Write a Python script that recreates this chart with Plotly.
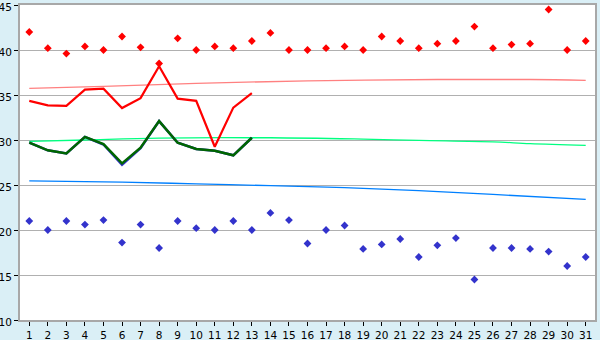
import plotly.graph_objects as go

days = list(range(1, 32))

max_pts = [42.0, 40.2, 39.6, 40.4, 40.0, 41.5, 40.3, 38.5, 41.3, 40.0,
           40.4, 40.2, 41.0, 41.9, 40.0, 40.0, 40.2, 40.4, 40.0, 41.5,
           41.0, 40.2, 40.7, 41.0, 42.6, 40.2, 40.6, 40.7, 44.5, 40.0, 41.0]
min_pts = [21.0, 20.0, 21.0, 20.6, 21.1, 18.6, 20.6, 18.0, 21.0, 20.2,
           20.0, 21.0, 20.0, 21.9, 21.1, 18.5, 20.0, 20.5, 17.9, 18.4,
           19.0, 17.0, 18.3, 19.1, 14.5, 18.0, 18.0, 17.9, 17.6, 16.0, 17.0]

line_days = list(range(1, 14))
red_line = [34.35, 33.85, 33.8, 35.6, 35.7, 33.55, 34.65, 38.2, 34.6, 34.35, 29.25, 33.6, 35.2]
green_line = [29.7, 28.85, 28.5, 30.35, 29.55, 27.4, 29.15, 32.1, 29.7, 29.0, 28.8, 28.3, 30.25]
blue_line = [29.7, 28.85, 28.5, 30.35, 29.5, 27.25, 29.1, 32.1, 29.7, 29.0, 28.8, 28.3, 30.25]

trend_days = [1, 5, 10, 16, 23, 28, 31]
pink_trend = [35.74, 35.95, 36.3, 36.58, 36.72, 36.72, 36.62]
gtrend_days = [1, 4, 8, 14, 19, 22, 26, 28, 31]
green_trend = [29.85, 30.0, 30.2, 30.25, 30.1, 29.96, 29.8, 29.6, 29.4]
btrend_days = [1, 6, 10, 14, 18, 22, 26, 31]
blue_trend = [25.45, 25.33, 25.12, 24.93, 24.7, 24.37, 23.95, 23.4]

fig = go.Figure()
fig.add_trace(go.Scatter(x=trend_days, y=pink_trend, mode="lines", line=dict(color="#FF8080", width=1.3, shape="spline")))
fig.add_trace(go.Scatter(x=gtrend_days, y=green_trend, mode="lines", line=dict(color="#00FF80", width=1.3, shape="spline")))
fig.add_trace(go.Scatter(x=btrend_days, y=blue_trend, mode="lines", line=dict(color="#0080FF", width=1.3, shape="spline")))
fig.add_trace(go.Scatter(x=line_days, y=blue_line, mode="lines", line=dict(color="#3333CC", width=2.5)))
fig.add_trace(go.Scatter(x=line_days, y=green_line, mode="lines", line=dict(color="#006600", width=2.5)))
fig.add_trace(go.Scatter(x=line_days, y=red_line, mode="lines", line=dict(color="#FF0000", width=2.2)))
fig.add_trace(go.Scatter(x=days, y=max_pts, mode="markers", marker=dict(symbol="diamond", size=6, color="#FF0000")))
fig.add_trace(go.Scatter(x=days, y=min_pts, mode="markers", marker=dict(symbol="diamond", size=6, color="#3333CC")))

fig.update_layout(
    width=600, height=340,
    margin=dict(l=20, r=5, t=5, b=20),
    paper_bgcolor="#DAEFF6", plot_bgcolor="#FFFFFF",
    showlegend=False,
    font=dict(family="DejaVu Sans", size=10.5, color="#000000"),
)
fig.update_xaxes(range=[0.5, 31.5], tickmode="array", tickvals=days, ticktext=[str(d) for d in days],
                 showgrid=False, showline=True, linecolor="#A8A8A8", linewidth=2, mirror=True,
                 ticks="outside", ticklen=4, tickcolor="#000000", zeroline=False, automargin=False,
                 ticklabeloverflow="allow")
fig.update_yaxes(range=[10, 45], dtick=5, showgrid=True, gridcolor="#B0B0B0", gridwidth=1,
                 showline=True, linecolor="#A8A8A8", linewidth=2, mirror=True,
                 ticks="outside", ticklen=4, tickcolor="#000000", zeroline=False, automargin=False,
                 ticklabeloverflow="allow", ticklabelshift=2)

fig.write_html("out.html")
